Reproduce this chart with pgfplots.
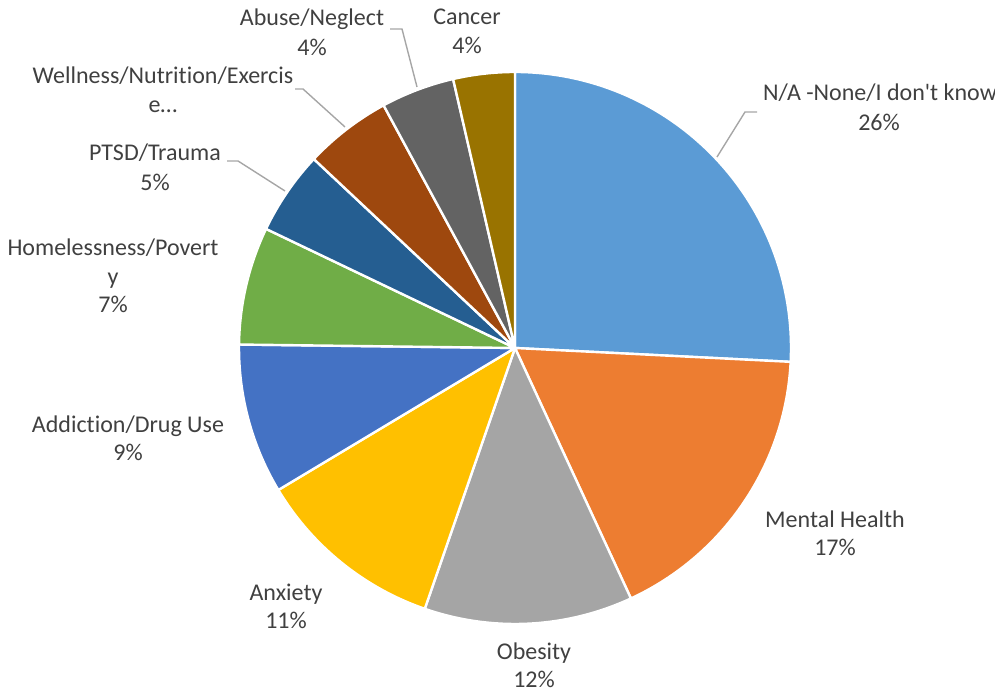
\documentclass[border=0pt]{standalone}
\usepackage{pgfplots}
\pgfplotsset{compat=1.18}
\usepackage{fontspec}
\setmainfont{Carlito}[Ligatures={TeX,NoCommon}]
\newfontfamily\cfn{Carlito}
\definecolor{c1}{HTML}{5B9BD5}
\definecolor{c2}{HTML}{ED7D31}
\definecolor{c3}{HTML}{A5A5A5}
\definecolor{c4}{HTML}{FFC000}
\definecolor{c5}{HTML}{4472C4}
\definecolor{c6}{HTML}{70AD47}
\definecolor{c7}{HTML}{255E91}
\definecolor{c8}{HTML}{9E480E}
\definecolor{c9}{HTML}{636363}
\definecolor{c10}{HTML}{997300}
\definecolor{txt}{HTML}{404040}
\definecolor{ldr}{HTML}{A6A6A6}
\tikzset{lab/.style={anchor=base, inner sep=0pt, text=txt, font=\fontsize{12}{14.5}\selectfont}}
\begin{document}
\begin{tikzpicture}
\useasboundingbox (0,0) rectangle (497.5pt,347pt);
\clip (0,0) rectangle (497.5pt,347pt);
\begin{axis}[at={(0,0)}, anchor=south west, scale only axis,
  width=497.5pt, height=347pt, xmin=0, xmax=995, ymin=0, ymax=694,
  hide axis, clip=false]
\gdef\cum{0}
\foreach \v/\col in {25.8/c1,17.3/c2,12.2/c3,11.1/c4,8.8/c5,6.9/c6,4.9/c7,5.1/c8,4.3/c9,3.6/c10}{
  \pgfmathsetmacro\sa{90-\cum*3.6}
  \pgfmathsetmacro\ea{90-(\cum+\v)*3.6}
  \pgfmathsetmacro\xs{515+276*cos(\sa)}
  \pgfmathsetmacro\ys{346+276*sin(\sa)}
  \edef\temp{\noexpand\filldraw[fill=\col, draw=white, line width=1.2pt, line join=round]
    (axis cs:515,346) -- (axis cs:\xs,\ys) arc[start angle=\sa, end angle=\ea, radius=138pt] -- cycle;}
  \temp
  \pgfmathsetmacro\nn{\cum+\v}
  \xdef\cum{\nn}
}
% leader lines
\draw[ldr, line width=0.7pt] (axis cs:757,582) -- (axis cs:745,582) -- (axis cs:717,537);
\draw[ldr, line width=0.7pt] (axis cs:390,665) -- (axis cs:402,665) -- (axis cs:417,607);
\draw[ldr, line width=0.7pt] (axis cs:295,605) -- (axis cs:303,605) -- (axis cs:345,567);
\draw[ldr, line width=0.7pt] (axis cs:227,533) -- (axis cs:238,533) -- (axis cs:285,503);
% labels
\node[lab] at (axis cs:880,593) {N/A -None/I don{\cfn'}t know};
\node[lab] at (axis cs:879,563) {26\%};
\node[lab] at (axis cs:835,166) {Mental Health};
\node[lab] at (axis cs:835,138) {17\%};
\node[lab] at (axis cs:534,34) {Obesity};
\node[lab] at (axis cs:534,6) {12\%};
\node[lab] at (axis cs:286,93) {Anxiety};
\node[lab] at (axis cs:286,65) {11\%};
\node[lab] at (axis cs:128,261) {Addiction/Drug Use};
\node[lab] at (axis cs:128,233) {9\%};
\node[lab] at (axis cs:113,438) {Homelessness/Povert};
\node[lab] at (axis cs:113,409) {y};
\node[lab] at (axis cs:113,381) {7\%};
\node[lab] at (axis cs:155,533) {PTSD/Trauma};
\node[lab] at (axis cs:155,503) {5\%};
\node[lab] at (axis cs:163,610) {Wellness/Nutrition/Exercis};
\node[lab] at (axis cs:163,581) {e…};
\node[lab] at (axis cs:312,668) {Abuse/Neglect};
\node[lab] at (axis cs:312,638) {4\%};
\node[lab] at (axis cs:467,669) {Cancer};
\node[lab] at (axis cs:467,640) {4\%};
\end{axis}
\end{tikzpicture}
\end{document}
